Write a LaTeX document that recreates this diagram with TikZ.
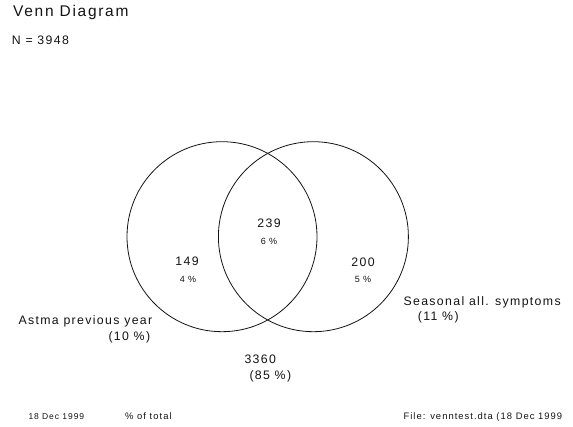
\documentclass[tikz,border=0pt]{standalone}
\usepackage{fontspec}
\setmainfont{Liberation Sans}[LetterSpace=11]
\usepackage{tikz}
\usetikzlibrary{positioning}
\definecolor{myink}{RGB}{20,20,20}
\tikzset{
  setcircle/.style={circle, draw=myink, line width=0.8pt,
    minimum size=190pt, inner sep=0pt},
  title/.style={anchor=base west, inner sep=0pt, font=\fontsize{15.5}{18}\selectfont, text=myink},
  lbl/.style={anchor=base west, inner sep=0pt, font=\fontsize{12.3}{14}\selectfont, text=myink},
  count/.style={inner sep=0pt, font=\fontsize{12.3}{14}\selectfont, text=myink},
  pct/.style={inner sep=0pt, font=\fontsize{9}{11}\selectfont, text=myink},
  foot/.style={anchor=base west, inner sep=0pt, font=\fontsize{9.4}{11}\selectfont, text=myink}
}

\begin{document}
\begin{tikzpicture}[x=1pt, y=-1pt]
  \useasboundingbox[fill=white] (0,0) rectangle (573,427);

  % heading
  \node[title] (head) at (13,16.7) {Venn Diagram};
  \node[lbl] (total) at (11.7,45) {N = 3948};

  % the two sets
  \node[setcircle] (asthma) at (222,236.7) {};
  \node[setcircle] (season) at (313.4,236.7) {};

  % counts in each region
  \node[count] (both) at (269,223) {239};
  \node[pct] (bothpct) at (269,241) {6 \%};
  \node[count] (onlyA) at (187,261.7) {149};
  \node[pct] (onlyApct) at (188,279) {4 \%};
  \node[count] (onlyS) at (363,262) {200};
  \node[pct] (onlySpct) at (363,279) {5 \%};

  % set names
  \node[lbl] (nameA) at (18.3,324.3) {Astma previous year};
  \node[lbl] (nameApct) at (108.3,341) {(10 \%)};
  \node[lbl] (nameS) at (403.3,306) {Seasonal all. symptoms};
  \node[lbl] (nameSpct) at (417.7,320.7) {(11 \%)};

  % outside both
  \node[lbl] (none) at (244.3,363.3) {3360};
  \node[lbl] (nonepct) at (249.3,380) {(85 \%)};

  % footer
  \node[foot, font=\fontsize{8.5}{10}\selectfont] (date) at (28.3,420) {18 Dec 1999};
  \node[foot] (ofTotal) at (125,420) {\% of total};
  \node[foot] (file) at (403.3,420) {File: venntest.dta (18 Dec 1999};
\end{tikzpicture}
\end{document}
